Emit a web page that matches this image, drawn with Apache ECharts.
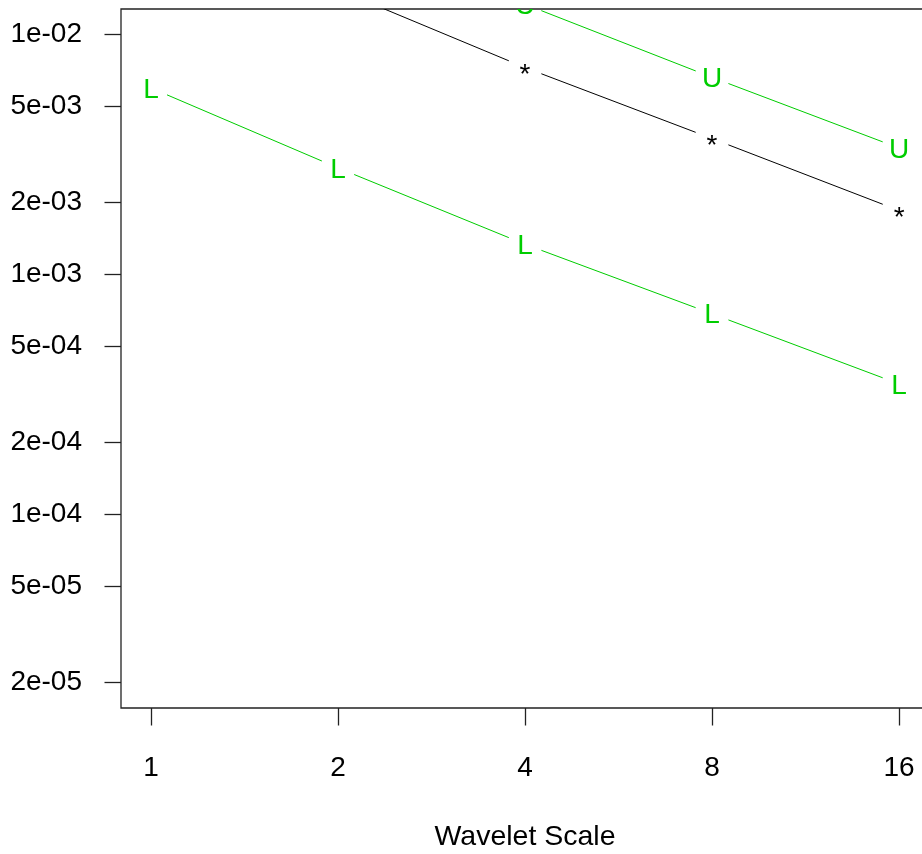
<!DOCTYPE html>
<html><head><meta charset="utf-8">
<script src="https://cdn.jsdelivr.net/npm/echarts@6/dist/echarts.min.js"></script>
<style>html,body{margin:0;padding:0;background:#fff}#c{width:922px;height:854px}</style>
</head><body><div id="c"></div>
<script>
// ---- data ----
const scales = [1, 2, 4, 8, 16];
const estimate = [3.4e-2, 1.53e-2, 7.25e-3, 3.67e-3, 1.84e-3];
const upper = [5.8e-2, 2.7e-2, 1.33e-2, 6.6e-3, 3.35e-3];
const lower = [5.96e-3, 2.77e-3, 1.332e-3, 6.84e-4, 3.49e-4];
const yTickValues = [1e-2, 5e-3, 2e-3, 1e-3, 5e-4, 2e-4, 1e-4, 5e-5, 2e-5];
const yTickLabels = ['1e-02', '5e-03', '2e-03', '1e-03', '5e-04', '2e-04', '1e-04', '5e-05', '2e-05'];
const xTickValues = [1, 2, 4, 8, 16];
const xTickLabels = ['1', '2', '4', '8', '16'];
const xTitle = 'Wavelet Scale';

// ---- styling ----
const FONT = '"Liberation Sans", Arial, sans-serif';
const GREEN = '#00CD00';
const GAP = 17.5;

function makeSeries(name, vals, glyph, color, dy) {
  const data = scales.map((s, i) => [Math.log2(s), Math.log10(vals[i])]);
  return {
    type: 'custom', name: name, clip: true, silent: true, animation: false,
    data: data,
    renderItem: function (params, api) {
      const i = params.dataIndex;
      const p = api.coord([api.value(0), api.value(1)]);
      const children = [{
        type: 'text',
        style: { text: glyph, x: p[0], y: p[1] + dy, align: 'center', verticalAlign: 'middle',
                 fill: color, font: '28px ' + FONT }
      }];
      if (i < data.length - 1) {
        const q = api.coord(data[i + 1]);
        const dx = q[0] - p[0], dyy = q[1] - p[1];
        const L = Math.hypot(dx, dyy), ux = dx / L, uy = dyy / L;
        children.push({
          type: 'line',
          shape: { x1: p[0] + ux * GAP, y1: p[1] + uy * GAP, x2: q[0] - ux * GAP, y2: q[1] - uy * GAP },
          style: { stroke: color, lineWidth: 1 }
        });
      }
      return { type: 'group', children: children };
    }
  };
}

const chart = echarts.init(document.getElementById('c'), null, { renderer: 'canvas' });
chart.setOption({
  backgroundColor: '#fff',
  animation: false,
  grid: { left: 121, top: 9, width: 808, height: 699, show: true, borderColor: '#222', borderWidth: 1.3,
          backgroundColor: 'transparent', containLabel: false, outerBoundsMode: 'none' },
  xAxis: {
    type: 'value', min: -0.16, max: 4.16,
    name: xTitle, nameLocation: 'middle', nameGap: 115,
    nameTextStyle: { fontSize: 28.5, fontFamily: FONT, color: '#000' },
    axisLine: { show: false, onZero: false },
    splitLine: { show: false },
    axisTick: { show: true, length: 17.5, customValues: xTickValues.map(v => Math.log2(v)), lineStyle: { color: '#222', width: 1.3 } },
    axisLabel: {
      customValues: xTickValues.map(v => Math.log2(v)),
      margin: 46, fontSize: 28, fontFamily: FONT, color: '#000',
      formatter: function (v) {
        const k = xTickValues.findIndex(t => Math.abs(Math.log2(t) - v) < 1e-9);
        return k >= 0 ? xTickLabels[k] : '';
      }
    }
  },
  yAxis: {
    type: 'value', min: -4.8066, max: -1.8959,
    axisLine: { show: false, onZero: false },
    splitLine: { show: false },
    axisTick: { show: true, length: 16.5, customValues: yTickValues.map(v => Math.log10(v)), lineStyle: { color: '#222', width: 1.3 } },
    axisLabel: {
      customValues: yTickValues.map(v => Math.log10(v)),
      margin: 39, fontSize: 28, fontFamily: FONT, color: '#000',
      formatter: function (v) {
        const k = yTickValues.findIndex(t => Math.abs(Math.log10(t) - v) < 1e-9);
        return k >= 0 ? yTickLabels[k] : '';
      }
    }
  },
  series: [
    makeSeries('estimate', estimate, '*', '#000', 8),
    makeSeries('upper', upper, 'U', GREEN, 2),
    makeSeries('lower', lower, 'L', GREEN, 2)
  ]
});
</script>
</body></html>
